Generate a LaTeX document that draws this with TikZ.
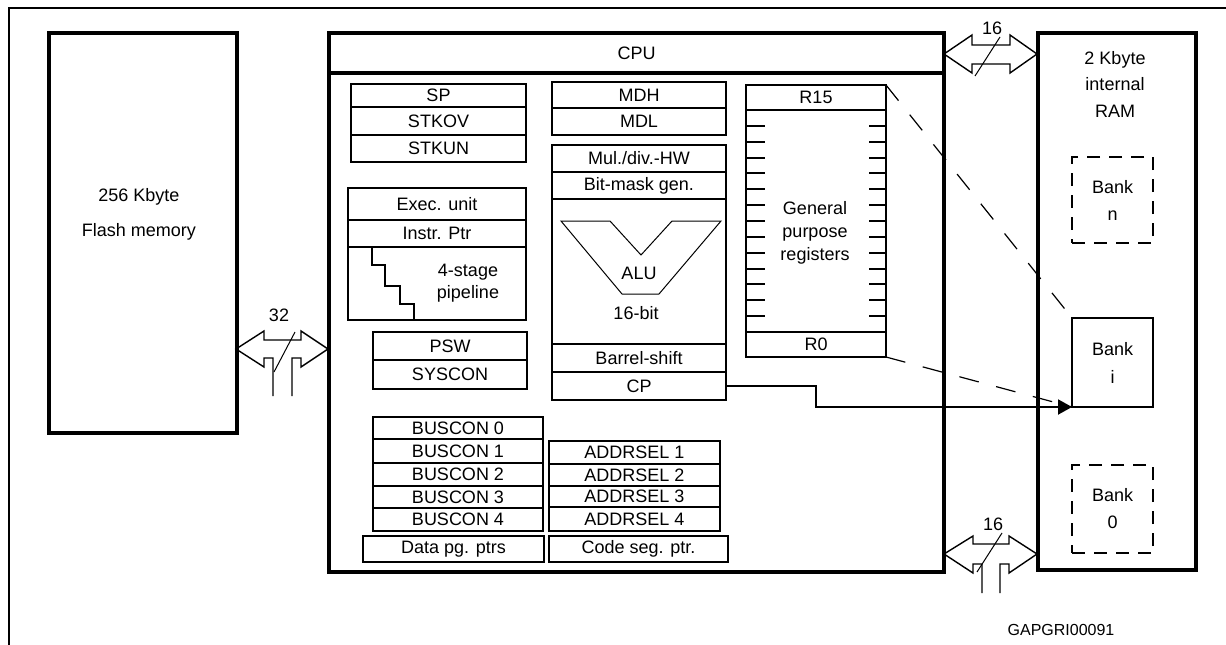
\documentclass[tikz,border=0pt]{standalone}
\usepackage{fontspec}
\setmainfont{Liberation Sans}
\usetikzlibrary{positioning, arrows.meta}

\tikzstyle{block} = [rectangle, draw=black, line width=3.2pt, inner sep=0pt, outer sep=0pt, font=\fontsize{18}{21}\selectfont]
\tikzstyle{reg} = [rectangle, draw=black, line width=2pt, inner sep=0pt, outer sep=0pt, text centered, font=\fontsize{18}{21}\selectfont]
\tikzstyle{bank} = [rectangle, draw=black, line width=2.6pt, dash pattern=on 13pt off 9pt, inner sep=0pt, outer sep=0pt, align=center, font=\fontsize{18}{27}\selectfont]
\tikzstyle{txt} = [inner sep=0pt, align=center, font=\fontsize{18}{23}\selectfont]
\tikzstyle{bus} = [draw=black, line width=1.4pt, line join=miter]
\tikzstyle{slash} = [line width=1pt]
\tikzstyle{arrow} = [line width=2pt, -{Triangle[length=14pt, width=15pt]}]
\tikzstyle{link} = [line width=1.2pt, dash pattern=on 20pt off 18pt]

\begin{document}
\begin{tikzpicture}[x=1pt, y=-1pt]
\useasboundingbox (0,0) rectangle (1226,645);

% Frame
\draw[line width=2.7pt] (1226,8) -- (9,8) -- (9,645);

% Main blocks
\node (flash) [block, minimum width=188pt, minimum height=400pt] at (143,233) {};
\node (flashtxt) [txt, font=\fontsize{18}{35}\selectfont] at (139,214.5) {256 Kbyte\\Flash memory};
\node (cpuhead) [block, minimum width=615pt, minimum height=40pt] at (636.5,53) {CPU};
\node (cpu) [block, minimum width=615pt, minimum height=499pt, below=0pt of cpuhead] {};
\node (ram) [block, minimum width=158pt, minimum height=537pt] at (1117,301.5) {};
\node (ramtxt) [txt, font=\fontsize{18}{26.5}\selectfont] at (1115,84) {2 Kbyte\\internal\\RAM};

% Stack registers
\node (sp) [reg, minimum width=175pt, minimum height=23pt] at (438.5,95.5) {SP};
\node (stkov) [reg, minimum width=175pt, minimum height=28pt, below=0pt of sp] {STKOV};
\node (stkun) [reg, minimum width=175pt, minimum height=27pt, below=0pt of stkov] {STKUN};

% Execution unit
\node (exec) [reg, minimum width=178pt, minimum height=32pt] at (437,204) {Exec. unit};
\node (iptr) [reg, minimum width=178pt, minimum height=27pt, below=0pt of exec] {Instr. Ptr};
\node (pipe) [reg, minimum width=178pt, minimum height=73pt, below=0pt of iptr] {};
\node (pipetxt) [txt, font=\fontsize{18}{22}\selectfont] at (468,283) {4-stage\\pipeline};
\draw[line width=2pt] (pipe.north west) ++(24,0) -- ++(0,18) -- ++(13,0) -- ++(0,21)
  -- ++(15,0) -- ++(0,18) -- ++(14,0) -- (414,320);

% PSW
\node (psw) [reg, minimum width=154pt, minimum height=28pt] at (450,346) {PSW};
\node (syscon) [reg, minimum width=154pt, minimum height=29pt, below=0pt of psw] {SYSCON};

% Multiply/divide
\node (mdh) [reg, minimum width=174pt, minimum height=26pt] at (639,95) {MDH};
\node (mdl) [reg, minimum width=174pt, minimum height=27pt, below=0pt of mdh] {MDL};

% ALU column
\node (muldiv) [reg, minimum width=174pt, minimum height=27pt] at (639,158.5) {Mul./div.-HW};
\node (bitmask) [reg, minimum width=174pt, minimum height=27pt, below=0pt of muldiv] {Bit-mask gen.};
\node (alu) [reg, minimum width=174pt, minimum height=145pt, below=0pt of bitmask] {};
\node (barrel) [reg, minimum width=174pt, minimum height=28pt, below=0pt of alu] {Barrel-shift};
\node (cp) [reg, minimum width=174pt, minimum height=28pt, below=0pt of barrel] {CP};
\draw[line width=1pt] (561,221) -- (610,221) -- (641,255) -- (672,221) -- (721,221)
  -- (659,294) -- (622,294) -- cycle;
\node (alutxt) [txt] at (639,273) {ALU};
\node (alubits) [txt] at (636,313) {16-bit};

% General purpose registers
\node (r15) [reg, minimum width=140pt, minimum height=25pt] at (816,97.5) {R15};
\node (gpr) [reg, minimum width=140pt, minimum height=222pt, below=0pt of r15] {};
\node (r0) [reg, minimum width=140pt, minimum height=25pt, below=0pt of gpr] {R0};
\foreach \k in {1,...,13} {
  \draw[line width=2pt] (746,{110+\k*15.857}) -- ++(19,0);
  \draw[line width=2pt] (886,{110+\k*15.857}) -- ++(-17,0);
}
\node (gprtxt) [txt] at (815,233) {General\\purpose\\registers};

% Bus control
\node (bus0) [reg, minimum width=170pt, minimum height=22pt] at (458,428) {BUSCON 0};
\node (bus1) [reg, minimum width=170pt, minimum height=24pt, below=0pt of bus0] {BUSCON 1};
\node (bus2) [reg, minimum width=170pt, minimum height=23pt, below=0pt of bus1] {BUSCON 2};
\node (bus3) [reg, minimum width=170pt, minimum height=22pt, below=0pt of bus2] {BUSCON 3};
\node (bus4) [reg, minimum width=170pt, minimum height=23pt, below=0pt of bus3] {BUSCON 4};
\node (addr1) [reg, minimum width=171pt, minimum height=23pt] at (634.5,452.5) {ADDRSEL 1};
\node (addr2) [reg, minimum width=171pt, minimum height=22pt, below=0pt of addr1] {ADDRSEL 2};
\node (addr3) [reg, minimum width=171pt, minimum height=21pt, below=0pt of addr2] {ADDRSEL 3};
\node (addr4) [reg, minimum width=171pt, minimum height=24pt, below=0pt of addr3] {ADDRSEL 4};
\node (dpp) [reg, minimum width=181pt, minimum height=26pt] at (453.5,549) {Data pg. ptrs};
\node (csp) [reg, minimum width=179pt, minimum height=26pt] at (638.5,549) {Code seg. ptr.};

% RAM banks
\node (bankn) [bank, minimum width=81pt, minimum height=86pt] at (1112.5,200) {Bank\\n};
\node (banki) [reg, align=center, font=\fontsize{18}{28}\selectfont, minimum width=81pt, minimum height=89pt] at (1112.5,362.5) {Bank\\i};
\node (bank0) [bank, minimum width=81pt, minimum height=88pt] at (1112.5,509) {Bank\\0};

% Links
\draw[link] (r15.north east) -- (banki.north west);
\draw[link] (r0.south east) -- (banki.south west);
\draw[arrow] (cp.east) -- ++(90,0) |- (banki.south west);

% Busses
\draw[bus] (944,54) -- (972,35) -- (972,45) -- (1010,45) -- (1010,35) -- (1037,54)
  -- (1010,73) -- (1010,64) -- (972,64) -- (972,73) -- cycle;
\draw[slash] (1000,37) -- (975,76);
\node (bustop) [txt] at (992,28) {16};

\draw[bus] (982,593) -- (982,564) -- (973,564) -- (973,573) -- (944,554) -- (973,536)
  -- (973,544) -- (1009,544) -- (1009,536) -- (1037,554) -- (1009,573) -- (1009,564)
  -- (1000,564) -- (1000,593);
\draw[slash] (1002,533) -- (977,572);
\node (busbot) [txt] at (993,524) {16};

\draw[bus] (273,396) -- (273,358) -- (264,358) -- (264,367) -- (236,349) -- (264,331)
  -- (264,340) -- (301,340) -- (301,331) -- (328,349) -- (301,367) -- (301,358)
  -- (292,358) -- (292,396);
\draw[slash] (295,332) -- (274,372);
\node (busleft) [txt] at (279,315) {32};

\node (figid) [txt, font=\fontsize{16}{19}\selectfont] at (1061,630) {GAPGRI00091};

\end{tikzpicture}
\end{document}
